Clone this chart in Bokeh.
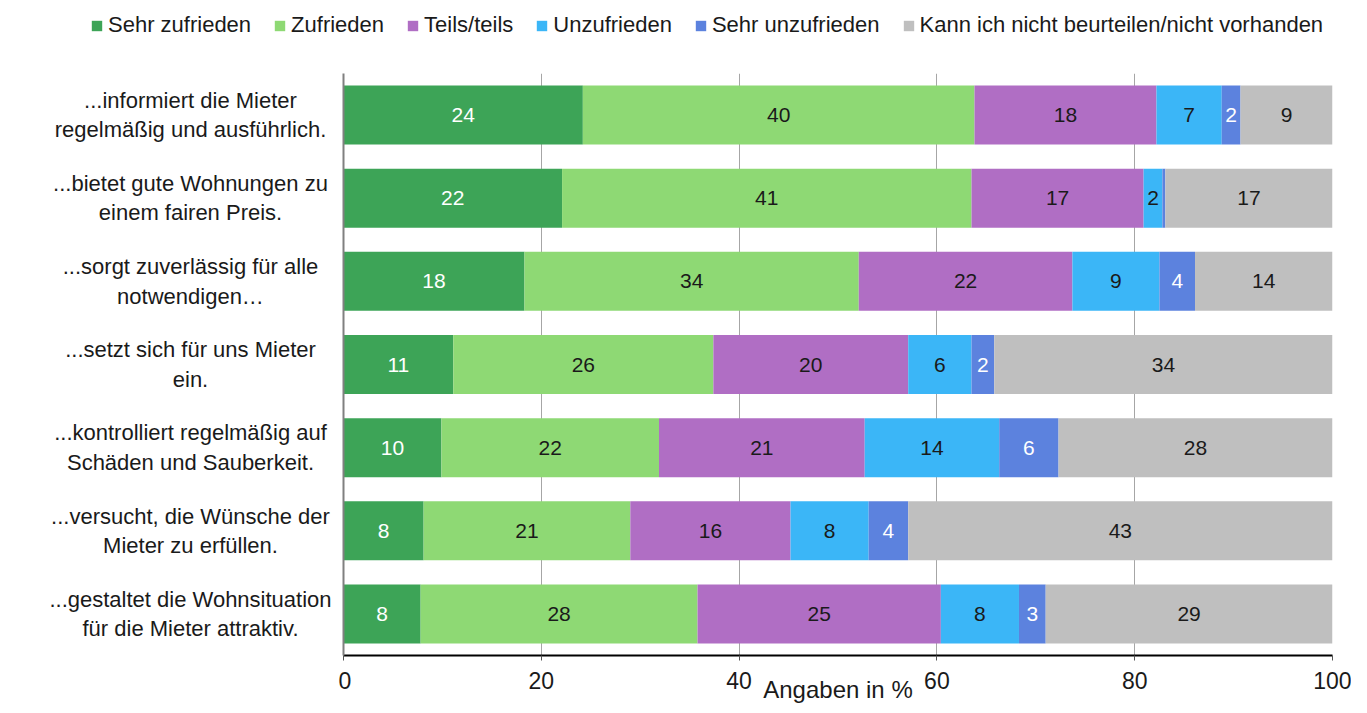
import numpy as np
from bokeh.plotting import figure
from bokeh.layouts import column, row
from bokeh.models import (ColumnDataSource, Range1d, FixedTicker, Legend, LegendItem)
from bokeh.core.properties import value
from bokeh.embed import file_html
from bokeh.resources import INLINE

# ---- data (rows top to bottom) ----
categories = [
    "...informiert die Mieter\nregelmäßig und ausführlich.",
    "...bietet gute Wohnungen zu\neinem fairen Preis.",
    "...sorgt zuverlässig für alle\nnotwendigen…",
    "...setzt sich für uns Mieter\nein.",
    "...kontrolliert regelmäßig auf\nSchäden und Sauberkeit.",
    "...versucht, die Wünsche der\nMieter zu erfüllen.",
    "...gestaltet die Wohnsituation\nfür die Mieter attraktiv.",
]
series_names = ["Sehr zufrieden", "Zufrieden", "Teils/teils", "Unzufrieden",
                "Sehr unzufrieden", "Kann ich nicht beurteilen/nicht vorhanden"]
sehr_zufrieden = [24.2, 22.1, 18.3, 11.1, 9.9, 8.1, 7.8]
zufrieden = [39.6, 41.4, 33.8, 26.3, 22.0, 20.9, 28.0]
teils_teils = [18.4, 17.4, 21.6, 19.7, 20.8, 16.2, 24.6]
unzufrieden = [6.6, 1.9, 8.8, 6.4, 13.6, 7.9, 7.9]
sehr_unzufrieden = [1.9, 0.3, 3.6, 2.3, 6.0, 4.0, 2.7]
kann_nicht = [9.3, 16.9, 13.9, 34.2, 27.7, 42.9, 29.0]
x_ticks = [0, 20, 40, 60, 80, 100]

colors = ["#3DA457", "#8ED974", "#B06EC4", "#3BB6F7", "#5C82DE", "#BFBFBF"]
label_colors = ["white", "#1A1A1A", "#1A1A1A", "#1A1A1A", "white", "#1A1A1A"]
FONT = "Liberation Sans"
TXT = "#1A1A1A"

series = [sehr_zufrieden, zufrieden, teils_teils, unzufrieden, sehr_unzufrieden, kann_nicht]
keys = ["s0", "s1", "s2", "s3", "s4", "s5"]
n = len(categories)
ypos = [n - 1 - i for i in range(n)]

data = {"y": ypos}
for k, s in zip(keys, series):
    data[k] = s
src = ColumnDataSource(data)

TOP = 33
BOTTOM = 50
FH = 582
LEFT_W = 338
BAR_H = 0.71

# ---------------- main chart ----------------
yr = Range1d(-0.5, n - 0.5)
p = figure(frame_width=989, frame_height=FH, output_backend="svg", toolbar_location=None,
           x_range=Range1d(0, 100), y_range=yr,
           min_border_left=5, min_border_right=19, min_border_bottom=BOTTOM, min_border_top=TOP)
p.outline_line_color = None

renderers = p.hbar_stack(keys, y="y", height=BAR_H, color=colors, line_color=None, source=src)

lx, ly, lt, lc = [], [], [], []
arr = np.array(series)
cum = np.cumsum(arr, axis=0)
for si in range(len(series)):
    for ri in range(n):
        v = arr[si, ri]
        r = int(round(v))
        if r <= 0:
            continue
        lx.append(cum[si, ri] - v / 2)
        ly.append(ypos[ri])
        lt.append(str(r))
        lc.append(label_colors[si])
lsrc = ColumnDataSource(dict(x=lx, y=ly, t=lt, c=lc))
p.text(x="x", y="y", text="t", text_color="c", source=lsrc, text_align="center",
       text_baseline="middle", text_font=value(FONT), text_font_size="21px")

p.xaxis.ticker = FixedTicker(ticks=x_ticks)
p.xaxis.axis_line_color = "#000000"
p.xaxis.axis_line_width = 2
p.xaxis.major_tick_out = 5
p.xaxis.major_tick_in = 0
p.xaxis.major_tick_line_color = "#555555"
p.xaxis.minor_tick_line_color = None
p.xaxis.major_label_text_font = FONT
p.xaxis.major_label_text_font_size = "23px"
p.xaxis.major_label_text_color = TXT
p.xaxis.major_label_standoff = 11
p.xaxis.axis_label = "Angaben in %"
p.xaxis.axis_label_text_font = FONT
p.xaxis.axis_label_text_font_size = "24px"
p.xaxis.axis_label_text_font_style = "normal"
p.xaxis.axis_label_text_color = TXT
p.xaxis.axis_label_standoff = -16

p.yaxis.ticker = FixedTicker(ticks=[])
p.yaxis.major_label_standoff = 0
p.yaxis.major_tick_out = 0
p.yaxis.major_tick_in = 0
p.yaxis.minor_tick_line_color = None
p.yaxis.axis_line_color = "#808080"
p.yaxis.axis_line_width = 2

p.xgrid.grid_line_color = "#A6A6A6"
p.xgrid.grid_line_width = 1
p.ygrid.grid_line_color = None

# ---------------- category labels (left panel) ----------------
pl = figure(frame_width=LEFT_W, frame_height=FH, output_backend="svg", toolbar_location=None,
            x_range=Range1d(0, LEFT_W), y_range=yr,
            min_border_left=0, min_border_right=0, min_border_bottom=BOTTOM, min_border_top=TOP)
pl.outline_line_color = None
pl.axis.visible = False
pl.grid.visible = False
csrc = ColumnDataSource(dict(x=[190] * n, y=ypos, t=categories))
pl.text(x="x", y="y", text="t", source=csrc, text_align="center", text_baseline="middle",
        text_font=value(FONT), text_font_size="22px", text_color=TXT, text_line_height=1.18)

# ---------------- legend (top panel) ----------------
pg = figure(frame_width=1351, frame_height=40, output_backend="svg", toolbar_location=None,
            x_range=Range1d(0, 100), y_range=Range1d(100, 101),
            min_border_left=0, min_border_right=0, min_border_bottom=0, min_border_top=0)
pg.outline_line_color = None
pg.axis.visible = False
pg.grid.visible = False
leg_r = pg.hbar_stack(keys, y="y", height=BAR_H, color=colors, line_color=None, source=src)
legend = Legend(items=[LegendItem(label=nm, renderers=[r]) for nm, r in zip(series_names, leg_r)],
                orientation="horizontal", location=(90, 2), padding=0, margin=0,
                border_line_color=None, background_fill_alpha=0,
                glyph_width=13, glyph_height=13, label_standoff=5, spacing=22,
                label_text_font=FONT, label_text_font_size="22px", label_text_color=TXT,
                label_height=22)
pg.add_layout(legend, "center")

layout = column(pg, row(pl, p))
open("out.html", "w").write(file_html(layout, INLINE))
